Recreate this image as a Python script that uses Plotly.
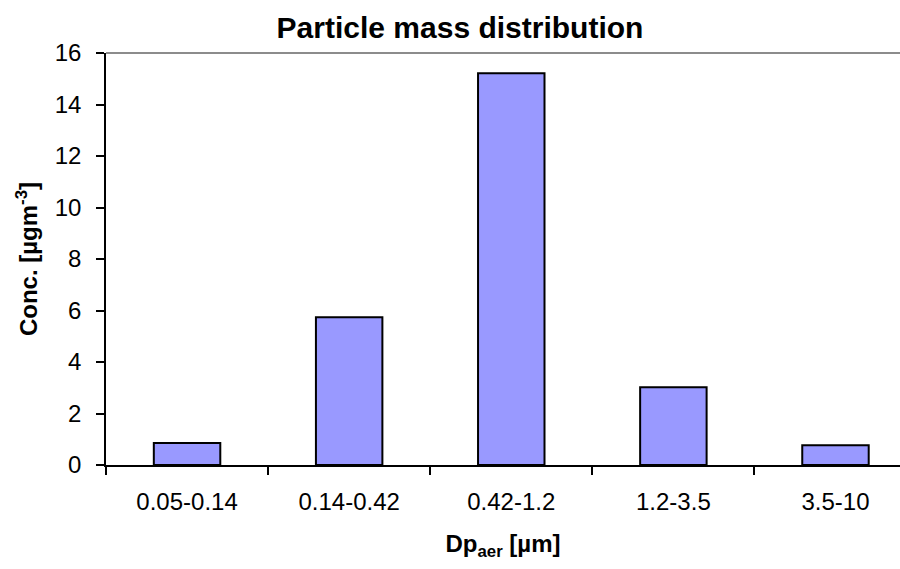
import plotly.graph_objects as go

categories = ["0.05-0.14", "0.14-0.42", "0.42-1.2", "1.2-3.5", "3.5-10"]
conc = [0.85, 5.74, 15.21, 3.02, 0.77]
y_ticks = [0, 2, 4, 6, 8, 10, 12, 14, 16]

fig = go.Figure()
fig.add_trace(go.Bar(
    x=categories, y=conc,
    marker=dict(color="#9999FF", line=dict(color="black", width=2)),
    width=0.41,
))

font_family = "Liberation Sans, Arial, sans-serif"
fig.update_layout(
    width=900, height=569,
    margin=dict(l=106, r=0, t=53, b=104),
    paper_bgcolor="white", plot_bgcolor="white",
    showlegend=False,
    font=dict(family=font_family, color="black", size=24),
    title=dict(text="<b>Particle mass distribution</b>", x=460/900, xanchor="center",
               y=1 - 27/569, yanchor="middle", font=dict(size=30, family=font_family)),
    xaxis=dict(
        type="category", range=[-0.5, 4.398],
        showline=True, linecolor="black", linewidth=1.5,
        ticks="outside", ticklen=8, tickcolor="black", tickwidth=1.5,
        tickson="boundaries", showgrid=False,
        tickfont=dict(size=24), ticklabelstandoff=14,
        title=dict(text="<b>Dp<sub>aer</sub> [µm]</b>", font=dict(size=24), standoff=22),
    ),
    yaxis=dict(
        range=[0, 16], tickvals=y_ticks, ticktext=[str(v) for v in y_ticks],
        showline=True, linecolor="black", linewidth=1.5,
        ticks="outside", ticklen=8, tickcolor="black", tickwidth=1.5,
        showgrid=False, zeroline=False,
        tickfont=dict(size=24), ticklabelstandoff=10,
        title=dict(text="<b>Conc. [µgm<sup>-3</sup>]</b>", font=dict(size=24), standoff=10),
    ),
    shapes=[dict(type="line", xref="paper", yref="paper", x0=0, x1=1, y0=1, y1=1,
                 line=dict(color="#8c8c8c", width=2))],
)

fig.write_html("out.html")
